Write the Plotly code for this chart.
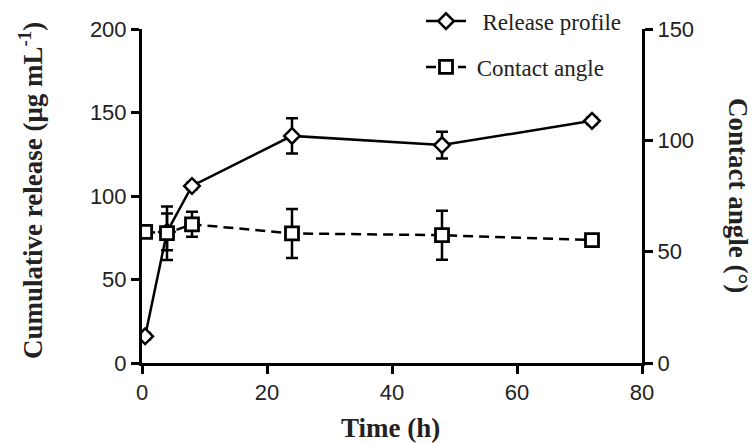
import plotly.graph_objects as go

# ---- data ----
time_release = [0.5, 4, 8, 24, 48, 72]
release = [16, 78.5, 106, 136, 130.5, 145]
release_err = [2, 11, 2, 10.5, 8, 2]

time_angle = [0.5, 4, 8, 24, 48, 72]
angle = [58.9, 58.3, 62.3, 58.2, 57.4, 55.2]
angle_err = [2, 12, 5.6, 11, 11, 2]

x_ticks = [0, 20, 40, 60, 80]
y1_ticks = [0, 50, 100, 150, 200]
y2_ticks = [0, 50, 100, 150]

serif = "Liberation Serif"
sans = "Liberation Sans"
NB = "\u00a0"

fig = go.Figure()
fig.add_trace(go.Scatter(
    x=time_release, y=release, name=NB * 2 + "Release profile", legendgroup="a",
    mode="lines+markers",
    line=dict(color="black", width=2.5),
    marker=dict(symbol="diamond", size=12, color="white",
                line=dict(color="black", width=2.5)),
    error_y=dict(type="data", array=release_err, visible=True,
                 color="black", thickness=2.5, width=6),
    yaxis="y",
))
fig.add_trace(go.Scatter(
    x=time_angle, y=angle, name=NB + "Contact angle", legendgroup="b",
    mode="lines+markers",
    line=dict(color="black", width=2.5, dash="10px,6px"),
    marker=dict(symbol="square", size=13, color="white",
                line=dict(color="black", width=2.8)),
    error_y=dict(type="data", array=angle_err, visible=True,
                 color="black", thickness=2.5, width=6),
    yaxis="y2",
))

axis_common = dict(
    showgrid=False, zeroline=False, showline=True, linecolor="black",
    linewidth=3, ticks="outside", ticklen=8, tickwidth=2.5, tickcolor="black",
    tickfont=dict(family=sans, size=22, color="#222"),
)

fig.update_layout(
    width=752, height=443,
    margin=dict(l=142, r=110, t=29, b=80, autoexpand=False),
    paper_bgcolor="white", plot_bgcolor="white",
    xaxis=dict(range=[0, 80], tickvals=x_ticks, **axis_common),
    yaxis=dict(range=[0, 200], tickvals=y1_ticks, **axis_common),
    yaxis2=dict(range=[0, 150], tickvals=y2_ticks, overlaying="y",
                side="right", anchor="x", **axis_common),
    showlegend=True,
    legend=dict(x=0.558, y=1.088, xanchor="left", yanchor="top",
                font=dict(family=serif, size=23, color="#222"),
                bgcolor="rgba(0,0,0,0)", itemwidth=40,
                traceorder="grouped", tracegroupgap=13),
    annotations=[
        dict(text="<b>Time (h)</b>", xref="paper", yref="paper",
             x=(390.5 - 142) / 500, y=(363 - 428) / 334,
             xanchor="center", yanchor="middle", showarrow=False,
             font=dict(family=serif, size=27, color="#222")),
        dict(text="<b>Cumulative release (μg mL<sup>-1</sup>)</b>",
             xref="paper", yref="paper",
             x=(31 - 142) / 500, y=(363 - 191) / 334,
             xanchor="center", yanchor="middle", textangle=-90,
             showarrow=False,
             font=dict(family=serif, size=27, color="#222")),
        dict(text="<b>Contact angle (°)</b>", xref="paper", yref="paper",
             x=(738 - 142) / 500, y=(363 - 195) / 334,
             xanchor="center", yanchor="middle", textangle=90,
             showarrow=False,
             font=dict(family=serif, size=27, color="#222")),
    ],
)

fig.write_html("out.html")
